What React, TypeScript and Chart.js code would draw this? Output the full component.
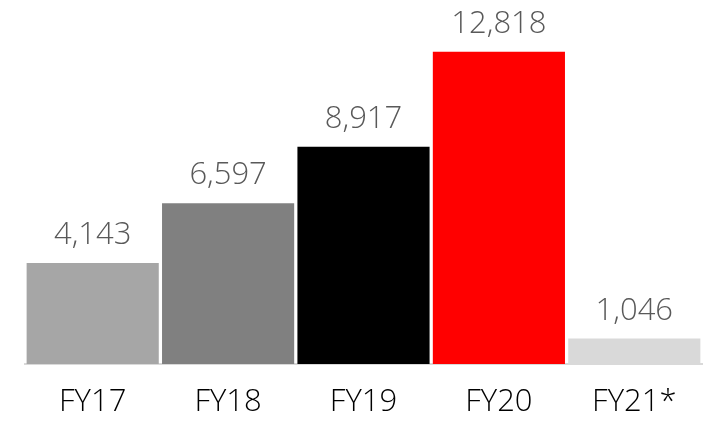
import React, { useEffect, useRef } from "react";
import { Chart, registerables } from "chart.js";

Chart.register(...registerables);

const categories = ["FY17", "FY18", "FY19", "FY20", "FY21*"];
const values = [4143, 6597, 8917, 12818, 1046];
const barColors = ["#a6a6a6", "#808080", "#000000", "#ff0000", "#d9d9d9"];

const FONT = "'Open Sans', 'Liberation Sans', sans-serif";

const valueLabels = {
  id: "valueLabels",
  afterDatasetsDraw(chart: any) {
    const ctx = chart.ctx;
    const meta = chart.getDatasetMeta(0);
    ctx.save();
    ctx.font = `300 31px ${FONT}`;
    ctx.fillStyle = "#595959";
    ctx.textAlign = "center";
    ctx.textBaseline = "alphabetic";
    meta.data.forEach((bar: any, i: number) => {
      ctx.fillText(values[i].toLocaleString("en-US"), bar.x, bar.y - 19);
    });
    ctx.restore();
  },
};

export default function App() {
  const ref = useRef<HTMLCanvasElement>(null);
  useEffect(() => {
    if (!ref.current) return;
    const chart = new Chart(ref.current, {
      type: "bar",
      data: {
        labels: categories,
        datasets: [
          {
            data: values,
            backgroundColor: barColors,
            borderWidth: 0,
            barPercentage: 0.976,
            categoryPercentage: 1,
          },
        ],
      },
      options: {
        animation: false,
        responsive: true,
        maintainAspectRatio: false,
        layout: { padding: { top: 23, left: 25, right: 8, bottom: -20 } },
        plugins: { legend: { display: false }, tooltip: { enabled: false } },
        scales: {
          y: { display: false, min: 0, max: 14000 },
          x: {
            grid: { display: false, drawTicks: false },
            border: { display: true, color: "#d9d9d9", width: 2 },
            ticks: {
              color: "#000000",
              padding: 23,
              font: { family: FONT, size: 31, weight: "300" as any, lineHeight: 1 },
            },
          },
        },
      },
      plugins: [valueLabels],
    });
    return () => chart.destroy();
  }, []);
  return (
    <div style={{ position: "fixed", left: 0, top: 0, width: 710, height: 421, background: "#fff" }}>
      <canvas ref={ref} />
    </div>
  );
}
